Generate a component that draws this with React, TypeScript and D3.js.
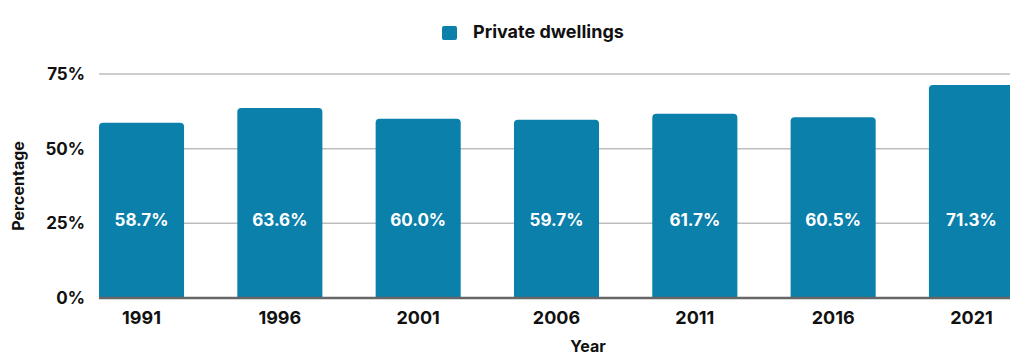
import React from "react";
import * as d3 from "d3";

const categories = ["1991", "1996", "2001", "2006", "2011", "2016", "2021"];
const values = [58.7, 63.6, 60.0, 59.7, 61.7, 60.5, 71.3];
const yTicks = [0, 25, 50, 75];
const seriesName = "Private dwellings";

const W = 1010;
const H = 357;
const FONT = "Inter, 'Noto Sans', sans-serif";
const BAR = "#0b80ab";

function roundedTopBar(x: number, y: number, w: number, h: number, r: number) {
  const rr = Math.min(r, h, w / 2);
  return `M${x},${y + h}V${y + rr}Q${x},${y} ${x + rr},${y}H${x + w - rr}Q${x + w},${y} ${x + w},${y + rr}V${y + h}Z`;
}

export default function App() {
  const left = 99;
  const top = 74;
  const bottom = 298;
  const x = d3
    .scaleBand<string>()
    .domain(categories)
    .range([left, 1014])
    .paddingInner(0.385)
    .paddingOuter(0);
  const y = d3.scaleLinear().domain([0, 75]).range([bottom, top]);
  const bw = x.bandwidth();

  return (
    <div style={{ position: "absolute", left: 0, top: 0, width: W, height: H, overflow: "hidden" }}>
      <svg width={W} height={H} style={{ display: "block", fontFamily: FONT }}>
        <rect x={0} y={0} width={W} height={H} fill="#fff" />
        {/* legend */}
        <rect x={442} y={26} width={15} height={14} rx={2} fill={BAR} />
        <text x={473} y={38} fontSize={18} fontWeight={700} fill="#111">
          {seriesName}
        </text>
        {/* gridlines */}
        {yTicks.filter((t) => t > 0).map((t) => (
          <line key={t} x1={left} x2={W} y1={y(t)} y2={y(t)} stroke="#bdbdbd" strokeWidth={1.5} />
        ))}
        {/* y tick labels */}
        {yTicks.map((t) => (
          <text key={t} x={85} y={y(t)} dy="0.35em" textAnchor="end" fontSize={17} fontWeight={700} fill="#111">
            {t}%
          </text>
        ))}
        {/* bars */}
        {categories.map((c, i) => (
          <path
            key={c}
            d={roundedTopBar(x(c)!, y(values[i]), bw, bottom - y(values[i]), 4)}
            fill={BAR}
          />
        ))}
        {/* baseline */}
        <line x1={left} x2={W} y1={bottom} y2={bottom} stroke="#666" strokeWidth={2.5} />
        {/* value labels */}
        {categories.map((c, i) => (
          <text
            key={c}
            x={x(c)! + bw / 2}
            y={220}
            dy="0.35em"
            textAnchor="middle"
            fontSize={17}
            fontWeight={700}
            fill="#fff"
          >
            {values[i].toFixed(1)}%
          </text>
        ))}
        {/* x labels */}
        {categories.map((c) => (
          <text key={c} x={x(c)! + bw / 2} y={318} dy="0.35em" textAnchor="middle" fontSize={18} fontWeight={700} fill="#111">
            {c}
          </text>
        ))}
        {/* axis titles */}
        <text
          transform={`translate(24,186) rotate(-90)`}
          textAnchor="middle"
          fontSize={16}
          fontWeight={700}
          fill="#111"
        >
          Percentage
        </text>
        <text x={588} y={352} textAnchor="middle" fontSize={16} fontWeight={700} fill="#111">
          Year
        </text>
      </svg>
    </div>
  );
}
